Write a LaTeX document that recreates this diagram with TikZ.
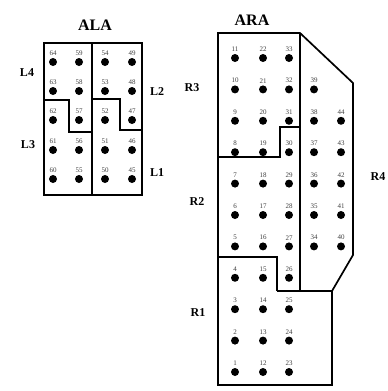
\documentclass[tikz,border=0pt]{standalone}
\usepackage{fontspec}
\setmainfont{Liberation Serif}
\usetikzlibrary{positioning}

\tikzset{
  pin/.style={circle, fill=black, inner sep=0pt, minimum size=8pt},
  pinnum/.style={font=\fontsize{7}{8}\selectfont, text=black!75, inner sep=0pt},
  zone/.style={font=\fontsize{12}{14}\selectfont\bfseries, inner sep=0pt},
  arrtitle/.style={font=\fontsize{16}{18}\selectfont\bfseries, inner sep=0pt},
  wall/.style={line width=1.7pt, line join=miter}
}

\begin{document}
\begin{tikzpicture}[x=1pt, y=-1pt]
            \useasboundingbox[fill=white] (0,0) rectangle (388,391);

            % left array
            \node[arrtitle] (ala) at (95, 25) {ALA};
            \draw[wall] (44,43) rectangle (142,195);
            \draw[wall] (92,43) -- (92,195);
            \draw[wall] (44,100) -- (69,100) -- (69,132) -- (92,132);
            \draw[wall] (92,99) -- (120,99) -- (120,130) -- (142,130);

            \foreach \c/\x in {0/53, 1/79, 2/105, 3/132}
              \foreach \r/\y in {0/62, 1/91, 2/120, 3/150, 4/179} {
                \pgfmathtruncatemacro{\n}{64 - 5*\c - \r}
                \node[pin] (a\n) at (\x, \y) {};
                \node[pinnum, above=2pt of a\n] {\n};
              }

            \node[zone] (l4) at (27, 73) {L4};
            \node[zone] (l2) at (157, 92) {L2};
            \node[zone] (l3) at (28, 145) {L3};
            \node[zone] (l1) at (157, 173) {L1};

            % right array
            \node[arrtitle] (ara) at (252, 20) {ARA};
            \draw[wall] (218,33) -- (300,33) -- (353,83) -- (353,255) -- (332,291)
                        -- (332,385) -- (218,385) -- cycle;
            \draw[wall] (300,33) -- (300,291);
            \draw[wall] (277,291) -- (332,291);
            \draw[wall] (218,257) -- (277,257) -- (277,291);
            \draw[wall] (218,157) -- (280,157) -- (280,127) -- (300,127);

            \foreach \x/\top in {235/11, 263/22, 289/33}
              \foreach \r in {0,...,10} {
                \pgfmathtruncatemacro{\n}{\top - \r}
                \node[pin] (r\n) at (\x, 58 + 31.4*\r) {};
                \node[pinnum, above=2pt of r\n] {\n};
              }
            \foreach \r in {1,...,6} {
                \pgfmathtruncatemacro{\n}{40 - \r}
                \node[pin] (r\n) at (314, 58 + 31.4*\r) {};
                \node[pinnum, above=2pt of r\n] {\n};
              }
            \foreach \r in {2,...,6} {
                \pgfmathtruncatemacro{\n}{46 - \r}
                \node[pin] (r\n) at (341, 58 + 31.4*\r) {};
                \node[pinnum, above=2pt of r\n] {\n};
              }

            \node[zone] (r3) at (192, 88) {R3};
            \node[zone] (r4) at (378, 177) {R4};
            \node[zone] (r2) at (197, 202) {R2};
            \node[zone] (r1) at (198, 313) {R1};
\end{tikzpicture}
\end{document}
